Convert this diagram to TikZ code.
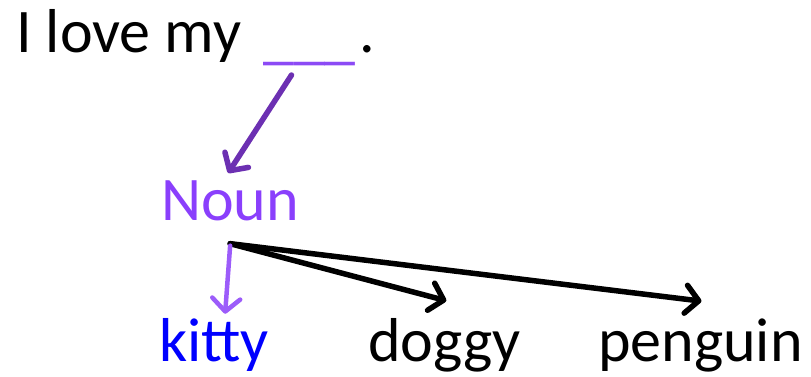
\documentclass[tikz,border=0pt]{standalone}
\usepackage{fontspec}
\setmainfont{Carlito}
\usetikzlibrary{arrows.meta}
\definecolor{blankcol}{RGB}{140,74,245}
\definecolor{topcol}{RGB}{108,48,178}
\definecolor{nouncol}{RGB}{138,63,252}
\definecolor{kitarrow}{RGB}{156,92,250}
\definecolor{kitcol}{RGB}{0,0,255}
\tikzset{
  word/.style={inner sep=0pt, anchor=base west, font=\fontsize{62}{70}\selectfont},
  link/.style={line width=5.5pt, line cap=round,
    -{Straight Barb[length=13pt,width=28pt,round]}},
}
\begin{document}
\begin{tikzpicture}[x=1pt,y=-1pt]
  \useasboundingbox (0,0) rectangle (811,377);
  % sentence with the blank slot
  \node[word] (sent) at (16,53) {I love my};
  \node[word, text=blankcol] (blank) at (263,58) {\_\_\_};
  \node[word] (dot) at (359,53) {.};
  % category and candidate words
  \node[word, text=nouncol] (noun) at (161,220) {Noun};
  \node[word, text=kitcol] (kitty) at (159,361) {kitty};
  \node[word] (doggy) at (368,361) {doggy};
  \node[word] (penguin) at (598,361) {penguin};
  % connectors
  \coordinate (fork) at ([yshift=-23pt]noun.south);
  \draw[link, topcol] ([xshift=-18pt,yshift=-17pt]blank.base) -- ([xshift=-2pt,yshift=7pt]noun.north);
  \draw[link, black] (fork) -- ([xshift=2pt,yshift=17pt]doggy.north);
  \draw[link, black] (fork) -- ([xshift=1pt,yshift=17pt]penguin.north);
  \draw[link, kitarrow, line width=4.5pt] ([yshift=-2pt]fork) -- ([xshift=11pt,yshift=4pt]kitty.north);
\end{tikzpicture}
\end{document}
